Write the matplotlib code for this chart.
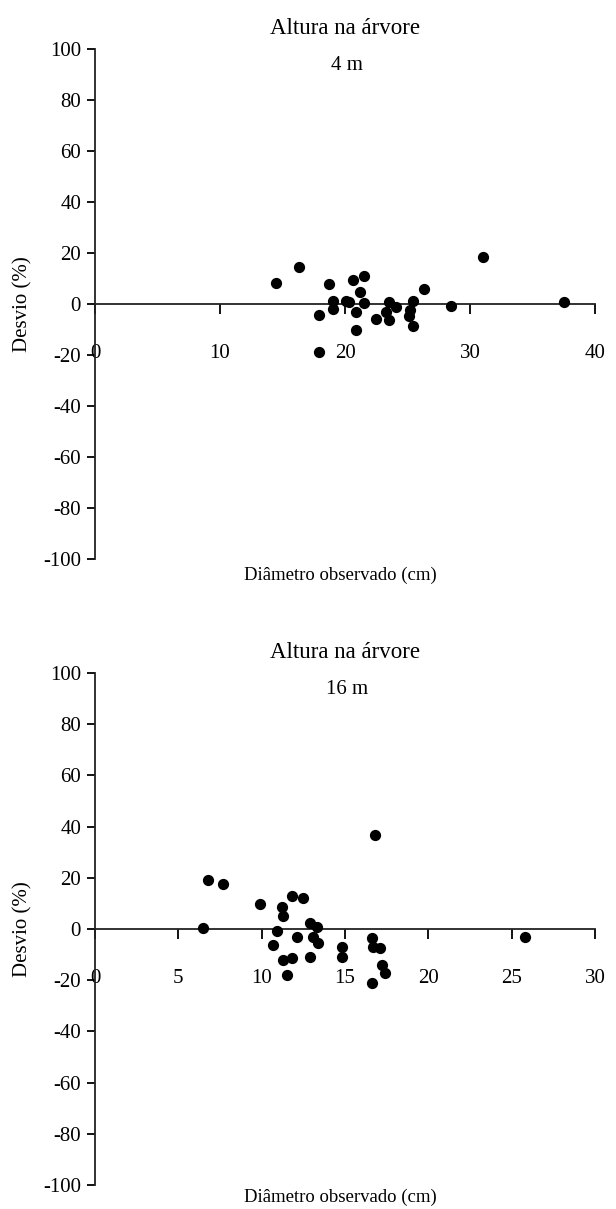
import matplotlib
matplotlib.use("Agg")
import matplotlib.pyplot as plt

plt.rcParams['font.family'] = ['Liberation Serif', 'DejaVu Serif']

# dados - altura 4 m
diam_4m = [14.5, 16.3, 18.7, 17.9, 19.0, 19.0, 17.9, 20.1, 20.6, 21.5, 20.3, 21.2, 20.9, 21.5,
           20.9, 22.5, 23.3, 23.5, 23.5, 24.1, 25.1, 25.4, 25.2, 25.4, 26.3, 28.5, 31.0, 37.5]
desvio_4m = [8.4, 14.4, 7.7, -4.3, 1.2, -2.1, -18.7, 1.2, 9.4, 11.0, 0.9, 4.8, -3.0, 0.3,
             -10.2, -6.0, -3.0, 0.9, -6.3, -1.3, -4.7, 1.3, -2.4, -8.5, 5.8, -0.8, 18.6, 0.7]

# altura 16 m
diam_16m = [6.8, 7.7, 6.5, 9.9, 11.2, 11.3, 11.8, 12.5, 10.9, 10.7, 12.1, 11.3, 11.8, 11.5, 12.9,
            13.3, 13.1, 13.4, 12.9, 14.8, 14.8, 16.8, 16.6, 16.7, 17.1, 16.6, 17.2, 17.4, 25.8]
desvio_16m = [19.2, 17.6, 0.3, 9.8, 8.7, 5.1, 12.7, 12.3, -0.8, -6.3, -3.3, -12.2, -11.5, -18.0, 2.2,
              0.9, -3.0, -5.6, -10.9, -7.2, -11.1, 36.9, -3.7, -7.2, -7.6, -20.9, -14.1, -17.1, -3.3]

yticks = [-100, -80, -60, -40, -20, 0, 20, 40, 60, 80, 100]
xticks_4m = [0, 10, 20, 30, 40]
xticks_16m = [0, 5, 10, 15, 20, 25, 30]

W, H = 616, 1209
fig = plt.figure(figsize=(W / 100, H / 100), dpi=100)


def painel(rect, x, y, xticks, subtitulo, y_tit):
    ax = fig.add_axes(rect)
    ax.scatter(x, y, s=50, color='black', zorder=3)
    ax.set_xlim(xticks[0], xticks[-1])
    ax.set_ylim(-100, 100)
    ax.set_xticks(xticks)
    ax.set_yticks(yticks)
    ax.set_yticklabels([str(v) for v in yticks])
    ax.spines['top'].set_visible(False)
    ax.spines['right'].set_visible(False)
    ax.spines['bottom'].set_position(('data', 0))
    for s in ['left', 'bottom']:
        ax.spines[s].set_linewidth(1.3)
        ax.spines[s].set_color('#222222')
    ax.tick_params(axis='y', direction='out', length=6, width=1.3, labelsize=15, pad=4)
    ax.tick_params(axis='x', direction='out', length=7, width=1.3, labelsize=15, pad=22)
    ax.set_ylabel('Desvio (%)', fontsize=15, labelpad=8)
    fig.text(345 / W, 1 - y_tit / H, 'Altura na árvore', ha='center', va='center', fontsize=16.5)
    fig.text(347 / W, 1 - (y_tit + 38) / H, subtitulo, ha='center', va='center', fontsize=15)
    return ax


ax1 = painel([95 / W, 1 - 559 / H, 500 / W, 510 / H], diam_4m, desvio_4m, xticks_4m, '4 m', 28)
ax2 = painel([95 / W, 1 - 1185 / H, 500 / W, 512 / H], diam_16m, desvio_16m, xticks_16m, '16 m', 652)

fig.text(340 / W, 1 - 575 / H, 'Diâmetro observado (cm)', ha='center', va='center', fontsize=13.5)
fig.text(340 / W, 1 - 1197 / H, 'Diâmetro observado (cm)', ha='center', va='center', fontsize=13.5)

fig.savefig('out.png', dpi=100)
